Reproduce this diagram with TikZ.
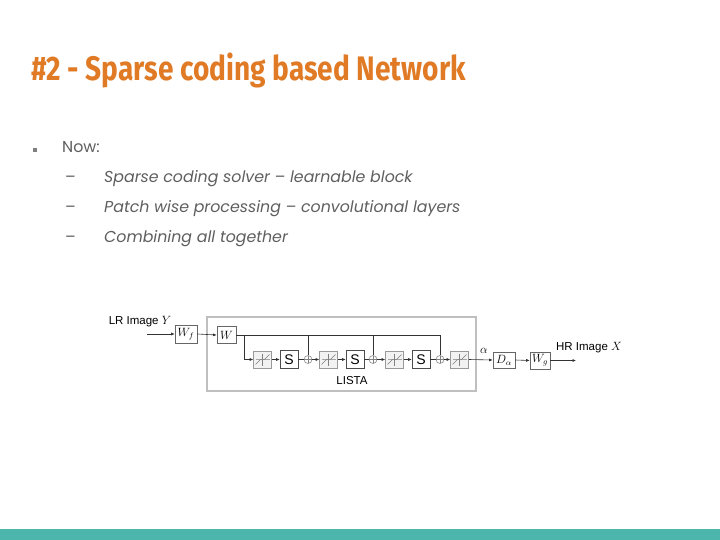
\documentclass[tikz,border=0pt]{standalone}
\usepackage[no-math]{fontspec}
\setmainfont{Poppins}
\newfontfamily\titlefont[FakeStretch=0.825]{Fira Sans}
\newfontfamily\diagfont{Liberation Sans}
\usetikzlibrary{arrows.meta}
\definecolor{titleorange}{RGB}{224,122,37}
\definecolor{bodygray}{RGB}{95,95,95}
\definecolor{barteal}{RGB}{77,182,172}
\tikzset{
  conn/.style={draw=black!80, line width=0.6pt},
  arr/.style={conn, -{Latex[length=3.5pt,width=3pt]}},
  wbox/.style={draw=black!60, fill=white, line width=0.6pt, inner sep=0, minimum width=20pt, minimum height=17pt, font=\fontsize{12}{14}\selectfont},
  sbox/.style={draw=black!70, fill=white, line width=0.6pt, inner sep=0, minimum size=18pt, font=\diagfont\fontsize{14}{14}\selectfont},
  thr/.style={draw=black!40, fill=black!5, line width=0.6pt, inner sep=0, minimum width=18pt, minimum height=17pt,
    path picture={
      \draw[black!35, line width=0.4pt] ([shift={(-7,0)}]path picture bounding box.center) -- ([shift={(7,0)}]path picture bounding box.center);
      \draw[black!50, line width=0.5pt] ([shift={(0,-6)}]path picture bounding box.center) -- ([shift={(0,6)}]path picture bounding box.center);
      \draw[black!50, line width=0.5pt] ([shift={(-7,5)}]path picture bounding box.center) -- ([shift={(-2,0)}]path picture bounding box.center) -- ([shift={(2,0)}]path picture bounding box.center) -- ([shift={(7,-5)}]path picture bounding box.center);
    }},
  sumnode/.style={circle, draw=black!45, fill=white, line width=0.6pt, inner sep=0, minimum size=8pt,
    path picture={
      \draw[black!50, line width=0.5pt] (path picture bounding box.north) -- (path picture bounding box.south)
        (path picture bounding box.west) -- (path picture bounding box.east);
    }},
  bodytext/.style={anchor=base west, inner sep=0, text=bodygray, font=\fontsize{15.8}{19}\selectfont},
  itemtext/.style={bodytext, font=\fontsize{15.8}{19}\selectfont\itshape},
  dlabel/.style={inner sep=0, font=\diagfont\fontsize{11.5}{13}\selectfont}
}
\begin{document}
\begin{tikzpicture}[x=1pt,y=-1pt]
\useasboundingbox (0,0) rectangle (720,540);
\fill[white] (0,0) rectangle (720,540);
\fill[barteal] (0,529) rectangle (720,540);

% title
\node[anchor=base west, inner sep=0, text=titleorange, font=\titlefont\bfseries\fontsize{34}{40}\selectfont] (title) at (31,81) {\#2 - Sparse coding based Network};

% bullets
\node[fill=bodygray!80, minimum size=4pt, inner sep=0] (bul) at (35,150) {};
\node[bodytext] (now) at (62,153) {Now:};
\node[bodytext] (d1) at (65,183) {--};
\node[bodytext] (d2) at (65,213) {--};
\node[bodytext] (d3) at (65,242) {--};
\node[itemtext] (i1) at (104,183) {Sparse coding solver -- learnable block};
\node[itemtext] (i2) at (104,213) {Patch wise processing -- convolutional layers};
\node[itemtext] (i3) at (104,242) {Combining all together};

% diagram
\draw[draw=black!25, line width=2.5pt, fill=white] (207,317) rectangle (476,391);
\node[dlabel] (lista) at (352,381) {LISTA};
\node[dlabel] (lr) at (140,322) {LR Image $Y$};
\coordinate (in) at (147,334);
\node[wbox, minimum width=22pt, minimum height=18pt] (Wf) at (186,334) {$W_f$};
\node[wbox, minimum width=19pt] (W) at (226.5,335) {$W$};

\node[thr] (t1) at (262.5,359.5) {};
\node[sbox] (s1) at (289,359.5) {S};
\node[sumnode] (p1) at (308,359.5) {};
\node[thr] (t2) at (328.5,359.5) {};
\node[sbox] (s2) at (355,359.5) {S};
\node[sumnode] (p2) at (373,359.5) {};
\node[thr] (t3) at (394.5,359.5) {};
\node[sbox] (s3) at (421,359.5) {S};
\node[sumnode] (p3) at (440,359.5) {};
\node[thr] (t4) at (459.5,359.5) {};

\node[wbox, minimum width=22pt, minimum height=16pt] (Da) at (504,360) {$D_\alpha$};
\node[wbox, minimum width=20pt, minimum height=17pt] (Wg) at (540,360.5) {$W_g$};
\coordinate (out) at (576,360.5);
\node[inner sep=0, font=\fontsize{12}{14}\selectfont] (alpha) at (484,351) {$\alpha$};
\node[dlabel] (hr) at (589,348) {HR Image $X$};

\coordinate (br) at (244,335);
\draw[arr] (in) -- (Wf.west);
\draw[arr] (Wf.east) -- (W.west);
\draw[conn] (W.east) -- (p3 |- W.east) -- (p3.north);
\draw[conn] (p1 |- W.east) -- (p1.north);
\draw[conn] (p2 |- W.east) -- (p2.north);
\draw[arr] (br) |- (t1.west);
\draw[arr] (t1.east) -- (s1.west);
\draw[conn] (s1.east) -- (p1.west);
\draw[arr] (p1.east) -- (t2.west);
\draw[arr] (t2.east) -- (s2.west);
\draw[conn] (s2.east) -- (p2.west);
\draw[arr] (p2.east) -- (t3.west);
\draw[arr] (t3.east) -- (s3.west);
\draw[conn] (s3.east) -- (p3.west);
\draw[arr] (p3.east) -- (t4.west);
\draw[arr] (t4.east) -- (Da.west);
\draw[arr] (Da.east) -- (Wg.west);
\draw[arr] (Wg.east) -- (out);
\end{tikzpicture}
\end{document}
